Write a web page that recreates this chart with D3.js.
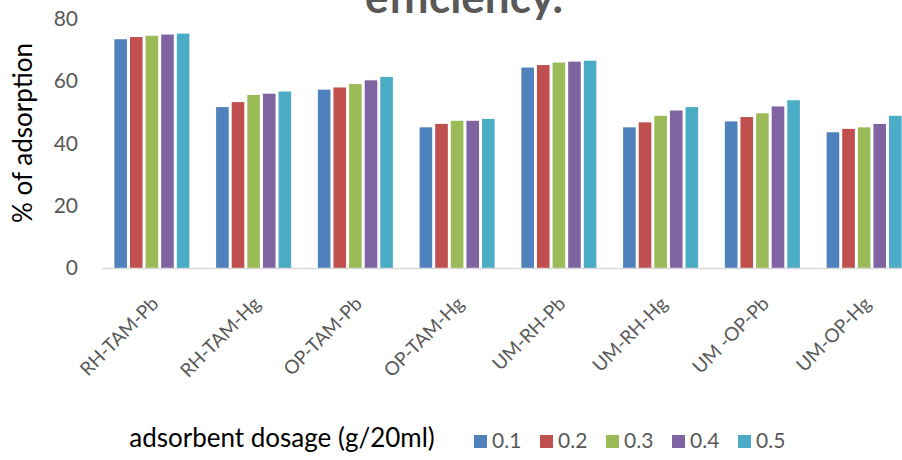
<!DOCTYPE html>
<html>
<head>
<meta charset="utf-8">
<script src="https://cdn.jsdelivr.net/npm/d3@7"></script>
<style>
  body { margin: 0; background: #fff; }
  svg { display: block; font-family: Lato, "Open Sans", sans-serif; }
</style>
</head>
<body>
<div id="chart"></div>
<script>
var width = 902;
var height = 460;
var margin = { top: 19, bottom: 192, left: 101, right: -13 };

var categories = ["RH-TAM-Pb", "RH-TAM-Hg", "OP-TAM-Pb", "OP-TAM-Hg", "UM-RH-Pb", "UM-RH-Hg", "UM -OP-Pb", "UM-OP-Hg"];
var dosages = ["0.1", "0.2", "0.3", "0.4", "0.5"];

// % of adsorption per dosage, one value per category
var dose01 = [73.5, 51.7, 57.3, 45.2, 64.4, 45.2, 47.1, 43.6];
var dose02 = [74.2, 53.3, 58.0, 46.3, 65.2, 46.8, 48.5, 44.7];
var dose03 = [74.6, 55.6, 59.1, 47.3, 66.0, 48.9, 49.7, 45.2];
var dose04 = [75.0, 56.0, 60.3, 47.3, 66.3, 50.6, 51.9, 46.3];
var dose05 = [75.3, 56.7, 61.4, 47.9, 66.6, 51.7, 53.9, 48.9];

var yTicks = [0, 20, 40, 60, 80];
var colors = ["#4F81BD", "#C0504D", "#9BBB59", "#8064A2", "#4BACC6"];

var series = [dose01, dose02, dose03, dose04, dose05];
var data = categories.map(function(c, i) {
  return { cat: c, values: series.map(function(s, j) { return { key: dosages[j], v: s[i] }; }) };
});

var svg = d3.select("#chart").append("svg")
  .attr("width", width)
  .attr("height", height);

var x0 = d3.scaleBand()
  .domain(categories)
  .range([margin.left, width - margin.right])
  .paddingInner(0.233)
  .paddingOuter(0.1165);

var x1 = d3.scaleBand()
  .domain(dosages)
  .range([0, x0.bandwidth()]);

var y = d3.scaleLinear()
  .domain([0, 80])
  .range([height - margin.bottom, margin.top]);

var color = d3.scaleOrdinal().domain(dosages).range(colors);

// title (only its second line shows, cut at the top)
svg.append("text")
  .attr("x", 464)
  .attr("y", 13)
  .attr("text-anchor", "middle")
  .attr("font-size", "44px")
  .attr("font-weight", "bold")
  .attr("fill", "#595959")
  .text("efficiency.");

// y axis labels
var yAxis = svg.append("g")
  .attr("transform", "translate(" + margin.left + ",0)")
  .call(d3.axisLeft(y).tickValues(yTicks).tickSize(0).tickPadding(23));
yAxis.select(".domain").remove();
yAxis.selectAll("text")
  .attr("font-size", "21px")
  .attr("font-family", "Lato, sans-serif")
  .attr("fill", "#595959");

// bars
var groups = svg.append("g").selectAll("g")
  .data(data)
  .enter()
  .append("g")
  .attr("transform", function(d) { return "translate(" + x0(d.cat) + ",0)"; });

groups.selectAll("rect")
  .data(function(d) { return d.values; })
  .enter()
  .append("rect")
  .attr("x", function(d) { return x1(d.key) + 1.5; })
  .attr("width", x1.bandwidth() - 3)
  .attr("y", function(d) { return y(d.v); })
  .attr("height", function(d) { return y(0) - y(d.v); })
  .attr("fill", function(d) { return color(d.key); });

// x axis line
var xAxis = svg.append("g")
  .attr("transform", "translate(0," + y(0) + ")")
  .call(d3.axisBottom(x0).tickSize(0).tickFormat(""));
xAxis.select(".domain")
  .attr("stroke", "#D9D9D9")
  .attr("stroke-width", 1.5);

// category labels, rotated
svg.append("g").selectAll("text")
  .data(categories)
  .enter()
  .append("text")
  .attr("transform", function(d) {
    return "translate(" + (x0(d) + x0.bandwidth() / 2 + 8) + "," + (y(0) + 37) + ") rotate(-45)";
  })
  .attr("text-anchor", "end")
  .attr("font-size", "19px")
  .attr("fill", "#595959")
  .text(function(d) { return d; });

// axis titles
svg.append("text")
  .attr("transform", "translate(32," + 133 + ") rotate(-90)")
  .attr("text-anchor", "middle")
  .attr("font-size", "26px")
  .attr("fill", "#000")
  .text("% of adsorption");

svg.append("text")
  .attr("x", 282)
  .attr("y", 447)
  .attr("text-anchor", "middle")
  .attr("font-size", "26px")
  .attr("fill", "#000")
  .text("adsorbent dosage (g/20ml)");

// legend
var legend = svg.append("g").selectAll("g")
  .data(dosages)
  .enter()
  .append("g")
  .attr("transform", function(d, i) { return "translate(" + (474 + i * 66) + ",435)"; });

legend.append("rect")
  .attr("width", 13)
  .attr("height", 13)
  .attr("fill", function(d) { return color(d); });

legend.append("text")
  .attr("x", 18)
  .attr("y", 13)
  .attr("font-size", "21px")
  .attr("fill", "#595959")
  .text(function(d) { return d; });
</script>
</body>
</html>
